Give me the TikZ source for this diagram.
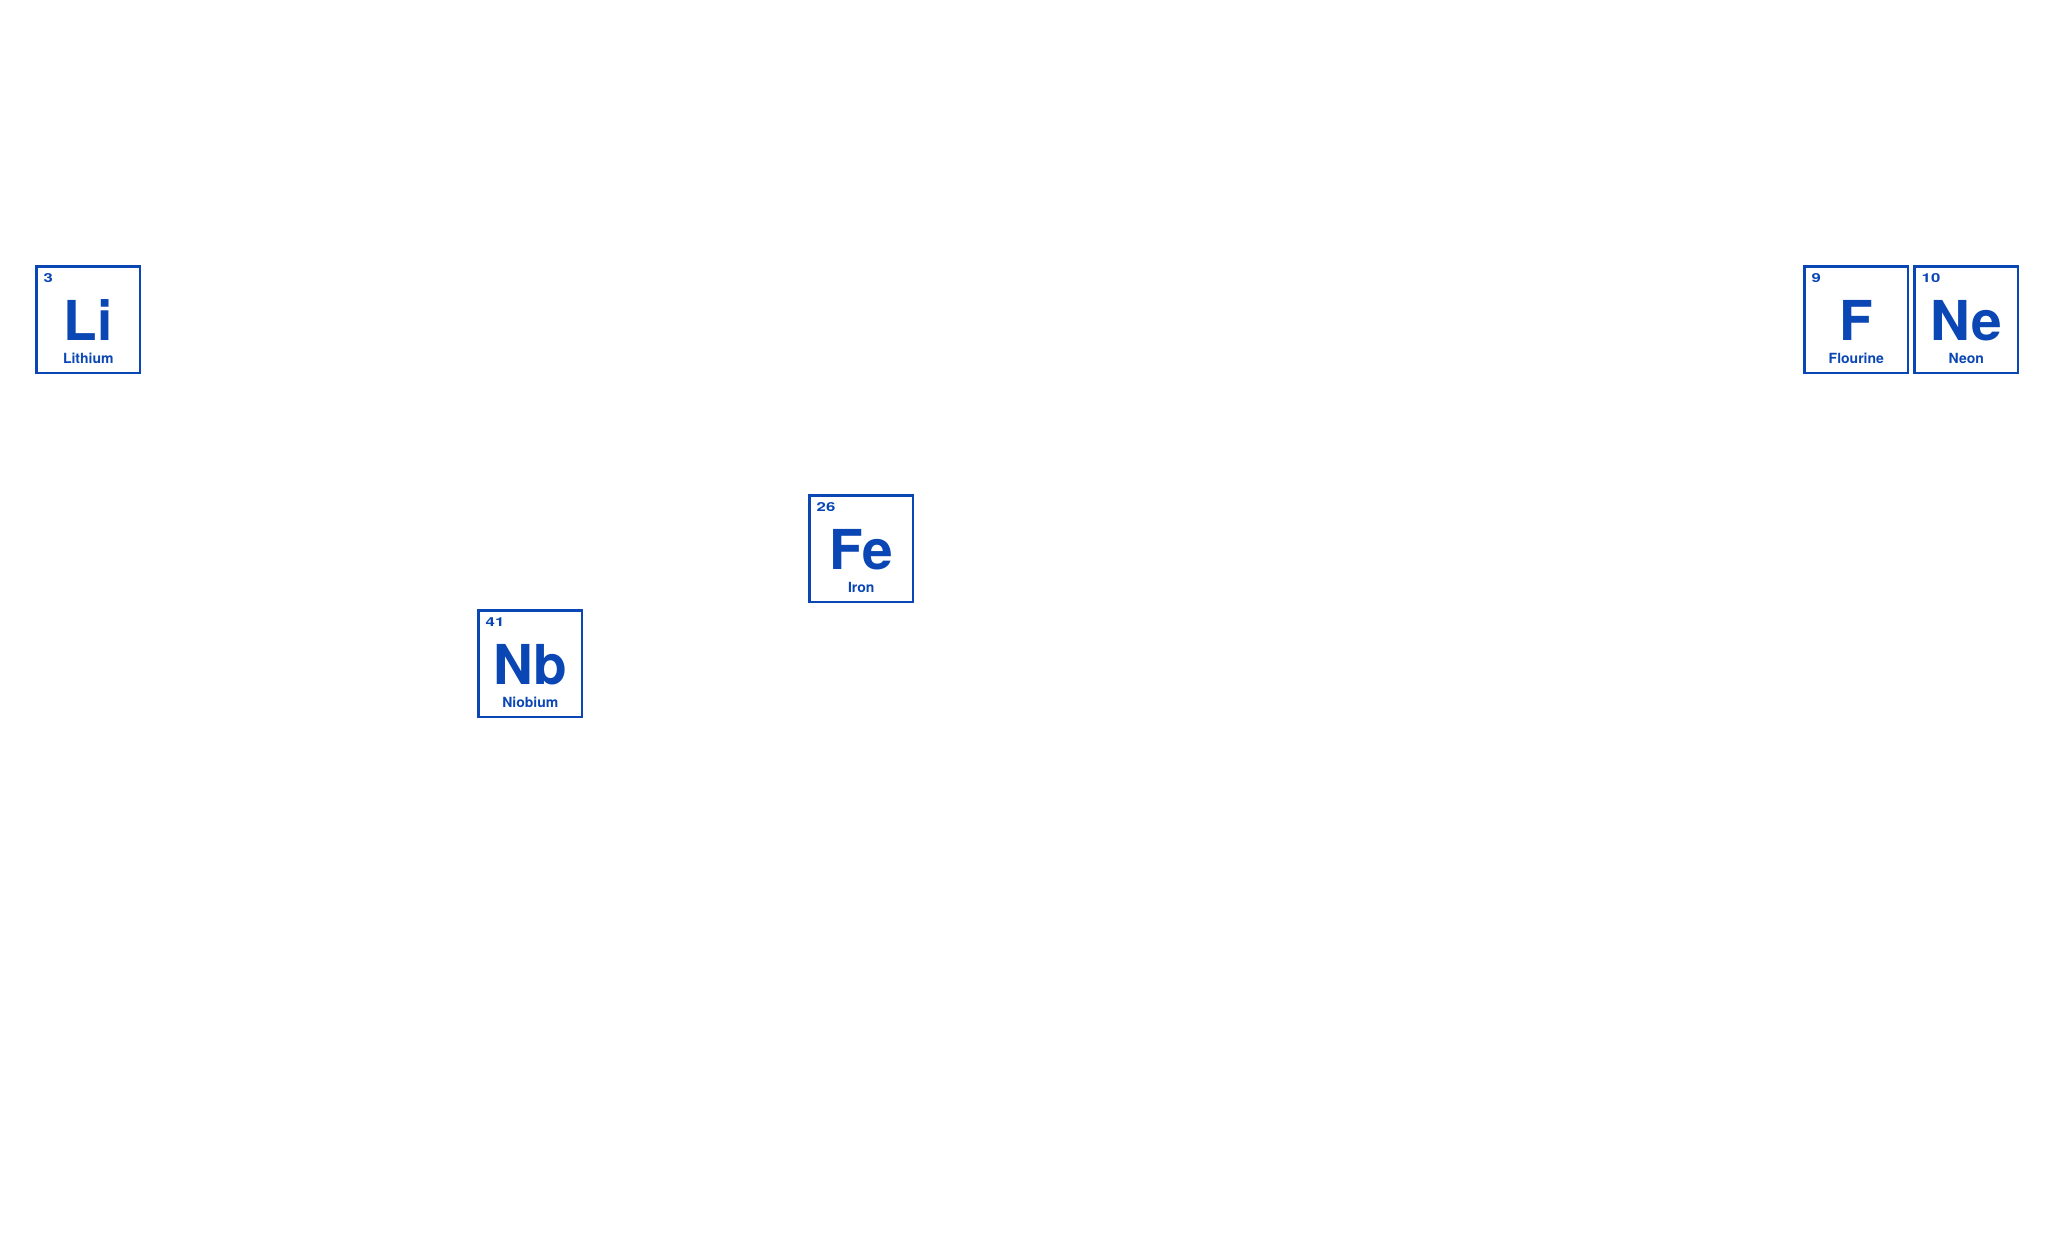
\documentclass[tikz,border=0pt]{standalone}
\usepackage{graphicx}
\usepackage{fontspec}
\setmainfont{TeX Gyre Heros}
\usetikzlibrary{calc}
\definecolor{elblue}{RGB}{10,70,180}
\tikzset{
  elbox/.style={draw=elblue, line width=1.3pt, fill=white},
  elnum/.style={anchor=base west, inner sep=0pt, text=elblue, font=\bfseries\fontsize{6.2}{7}\selectfont},
  elsym/.style={anchor=base, inner sep=0pt, text=elblue, font=\bfseries\fontsize{27.5}{30}\selectfont},
  elname/.style={anchor=base, inner sep=0pt, text=elblue, font=\bfseries\fontsize{7}{8}\selectfont}
}
% #1 id, #2 x (left, px), #3 y (top, px), #4 number, #5 symbol, #6 name
\newcommand{\elemcell}[6]{%
  \node[elbox, minimum width=51.7pt, minimum height=53.2pt, inner sep=0pt, anchor=north west]
     (#1) at (#2,#3) {};
  \node[elnum] (#1num) at ($(#1.north west)+(8,17.5)$) {\scalebox{1.35}[1]{#4}};
  \node[elsym] (#1sym) at ($(#1.north)+(0,75.5)$) {#5};
  \node[elname] (#1name) at ($(#1.north)+(0,98.5)$) {#6};
}
\begin{document}
\begin{tikzpicture}[x=0.5pt, y=-0.5pt]
\useasboundingbox (0,0) rectangle (2048,1255);
\fill[white] (0,0) rectangle (2048,1255);
\elemcell{li}{35.3}{265.3}{3}{Li}{Lithium}
\elemcell{fe}{808.3}{494.3}{26}{Fe}{Iron}
\elemcell{nb}{477.3}{609.3}{41}{Nb}{Niobium}
\elemcell{f}{1803.3}{265.3}{9}{F}{Flourine}
\elemcell{ne}{1913.3}{265.3}{10}{Ne}{Neon}
\end{tikzpicture}
\end{document}
